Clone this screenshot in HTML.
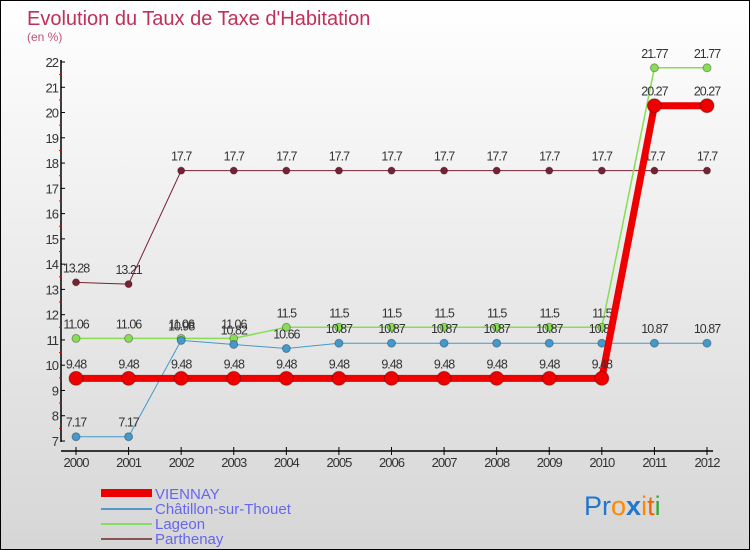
<!DOCTYPE html>
<html><head><meta charset="utf-8"><style>
body{margin:0}
#c{width:748px;height:548px;border:1px solid #000;background:linear-gradient(#fff,#d6d6d6);position:relative;font-family:"Liberation Sans",sans-serif;overflow:hidden}
</style></head><body>
<div id="c">
<svg id="s" width="748" height="548" style="position:absolute;left:0;top:0">
<text x="26" y="24" font-size="20" fill="#c0305a">Evolution du Taux de Taxe d'Habitation</text>
<text x="26" y="40" font-size="12" fill="#c0507a">(en %)</text>
<g id="ax"></g><g id="series"></g>
<g>
<rect x="100" y="488" width="51" height="8" fill="#e00"/>
<text x="154" y="498" font-size="15" fill="#6666ee">VIENNAY</text>
<line x1="100" y1="508" x2="151" y2="508" stroke="#5599cc" stroke-width="2"/>
<text x="154" y="513" font-size="15" fill="#6666ee">Châtillon-sur-Thouet</text>
<line x1="100" y1="523" x2="151" y2="523" stroke="#88dd66" stroke-width="2"/>
<text x="154" y="528" font-size="15" fill="#6666ee">Lageon</text>
<line x1="100" y1="538" x2="151" y2="538" stroke="#885555" stroke-width="2"/>
<text x="154" y="543" font-size="15" fill="#6666ee">Parthenay</text>
</g>
<text x="583" y="514" font-size="27"><tspan fill="#2277cc">Pr</tspan><tspan fill="#ff8800">o</tspan><tspan fill="#2277cc" font-weight="bold">x</tspan><tspan fill="#ff8800">i</tspan><tspan fill="#ee6600">t</tspan><tspan fill="#33aa33">i</tspan></text>
</svg>
</div>
<script>
const years=[2000,2001,2002,2003,2004,2005,2006,2007,2008,2009,2010,2011,2012];
const yTicks=[7,8,9,10,11,12,13,14,15,16,17,18,19,20,21,22];
const viennay=[9.48,9.48,9.48,9.48,9.48,9.48,9.48,9.48,9.48,9.48,9.48,20.27,20.27];
const chatillon=[7.17,7.17,10.98,10.82,10.66,10.87,10.87,10.87,10.87,10.87,10.87,10.87,10.87];
const lageon=[11.06,11.06,11.06,11.06,11.5,11.5,11.5,11.5,11.5,11.5,11.5,21.77,21.77];
const parthenay=[13.28,13.21,17.7,17.7,17.7,17.7,17.7,17.7,17.7,17.7,17.7,17.7,17.7];
const NS="http://www.w3.org/2000/svg";
const X=i=>75+i*(706-75)/(years.length-1);
const Y=v=>440-(v-7)*(440-61)/15;
function mk(t,a,p){const e=document.createElementNS(NS,t);for(const k in a)e.setAttribute(k,a[k]);p.appendChild(e);return e;}
const ax=document.getElementById('ax');
let l=mk('line',{x1:60,y1:59,x2:60,y2:441,stroke:'#000','stroke-width':1.5},ax);


l=mk('line',{x1:60,y1:450,x2:712,y2:450,stroke:'#000','stroke-width':1.5},ax);


yTicks.forEach(v=>{
  mk('line',{x1:60,y1:Y(v),x2:64,y2:Y(v),stroke:'#000'},ax);
  if(v<22)mk('line',{x1:58,y1:Y(v+0.5),x2:61,y2:Y(v+0.5),stroke:'#e00'},ax);
  const t=mk('text',{x:57,y:Y(v)+5,'font-size':13,fill:'#333','text-anchor':'end','letter-spacing':'-1'},ax);
  t.textContent=v;
  
  
});
years.forEach((y,i)=>{
  mk('line',{x1:X(i),y1:446,x2:X(i),y2:454,stroke:'#000'},ax);
  const t=mk('text',{x:X(i),y:466,'font-size':13,fill:'#333','text-anchor':'middle','letter-spacing':'-1'},ax);
  t.textContent=y;
  
  
});
const sg=document.getElementById('series');
function draw(data,color,w,r,name){
  const g=mk('g',{},sg);
  
  
  mk('polyline',{points:data.map((v,i)=>X(i)+','+Y(v)).join(' '),fill:'none',stroke:color,'stroke-width':w},g);
  data.forEach((v,i)=>{
    const c=mk('circle',{cx:X(i),cy:Y(v),r:r,fill:color,stroke:'rgba(0,0,0,0.3)','stroke-width':1},g);
    
    
    const t=mk('text',{x:X(i),y:Y(v)-10,'font-size':12.5,fill:'#333','text-anchor':'middle','letter-spacing':'-1'},g);
    t.textContent=v;
    
    
  });
}
draw(parthenay,'#772233',1,3.5,'parthenay');
draw(lageon,'#88dd55',1.5,4,'lageon');
draw(chatillon,'#4499cc',1,4,'chatillon');
draw(viennay,'#ee0000',7,7,'viennay');
</script>
</body></html>
